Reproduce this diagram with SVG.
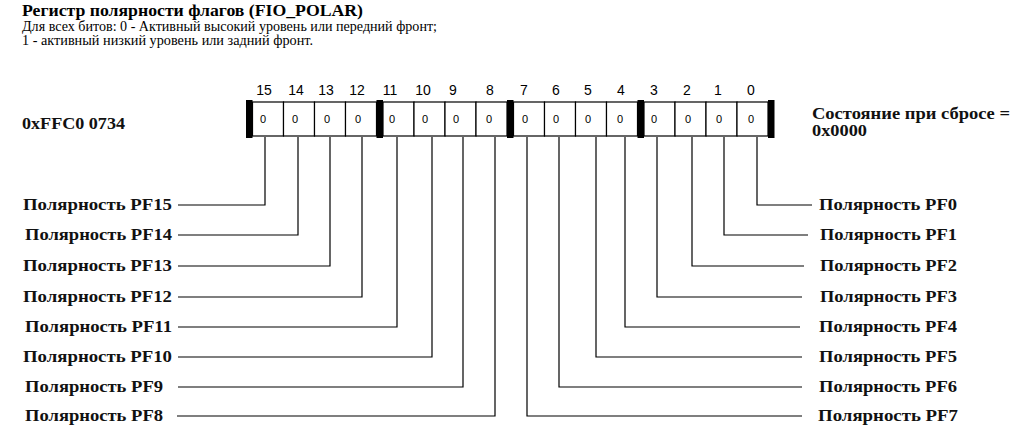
<svg xmlns="http://www.w3.org/2000/svg" width="1018" height="428" viewBox="0 0 1018 428">
<style>
.title{font-family:"Liberation Serif","DejaVu Serif",serif;font-weight:bold;font-size:16px;fill:#000}
.desc{font-family:"Liberation Serif","DejaVu Serif",serif;font-size:14px;fill:#000}
.lbl{font-family:"Liberation Serif","DejaVu Serif",serif;font-weight:bold;font-size:17px;fill:#111}
.num{font-family:"Liberation Sans",sans-serif;font-size:14px;fill:#000;text-anchor:middle}
.val{font-family:"Liberation Sans",sans-serif;font-size:11px;fill:#000;text-anchor:middle}
.bar{fill:#000}
.cell{fill:#fff;stroke:#000;stroke-width:1.2}
.conn{fill:none;stroke:#000;stroke-width:1.2}
</style>
<g id="header">
<text class="title" x="22" y="16" textLength="341" lengthAdjust="spacingAndGlyphs">Регистр полярности флагов (FIO_POLAR)</text>
<text class="desc" x="22" y="31" textLength="415" lengthAdjust="spacingAndGlyphs">Для всех битов: 0 - Активный высокий уровень или передний фронт;</text>
<text class="desc" x="22" y="45" textLength="291" lengthAdjust="spacingAndGlyphs">1 - активный низкий уровень или задний фронт.</text>
</g>
<g id="address"><text class="lbl" x="22" y="129" textLength="103" lengthAdjust="spacingAndGlyphs">0xFFC0 0734</text></g>
<g id="reset"><text class="lbl" x="812" y="119" textLength="198" lengthAdjust="spacingAndGlyphs">Состояние при сбросе =</text><text class="lbl" x="812" y="136" textLength="55" lengthAdjust="spacingAndGlyphs">0x0000</text></g>
<g id="register">
<rect class="cell" x="252.5" y="102" width="31" height="34"/><rect class="cell" x="283.5" y="102" width="31" height="34"/><rect class="cell" x="314.5" y="102" width="31" height="34"/><rect class="cell" x="345.5" y="102" width="31" height="34"/>
<rect class="cell" x="383" y="102" width="31" height="34"/><rect class="cell" x="414" y="102" width="31" height="34"/><rect class="cell" x="445" y="102" width="31" height="34"/><rect class="cell" x="476" y="102" width="31" height="34"/>
<rect class="cell" x="513.5" y="102" width="31" height="34"/><rect class="cell" x="544.5" y="102" width="31" height="34"/><rect class="cell" x="575.5" y="102" width="31" height="34"/><rect class="cell" x="606.5" y="102" width="31" height="34"/>
<rect class="cell" x="644" y="102" width="31" height="34"/><rect class="cell" x="675" y="102" width="31" height="34"/><rect class="cell" x="706" y="102" width="31" height="34"/><rect class="cell" x="737" y="102" width="31" height="34"/>
<rect class="bar" x="246" y="100" width="6.5" height="38"/><rect class="bar" x="376.5" y="100" width="6.5" height="38"/><rect class="bar" x="507" y="100" width="6.5" height="38"/><rect class="bar" x="637.5" y="100" width="6.5" height="38"/><rect class="bar" x="768" y="100" width="6.5" height="38"/>
<text class="num" x="264" y="95">15</text><text class="num" x="296" y="95">14</text><text class="num" x="326" y="95">13</text><text class="num" x="357" y="95">12</text>
<text class="num" x="390" y="95">11</text><text class="num" x="423" y="95">10</text><text class="num" x="453" y="95">9</text><text class="num" x="490" y="95">8</text>
<text class="num" x="524" y="95">7</text><text class="num" x="556" y="95">6</text><text class="num" x="588" y="95">5</text><text class="num" x="621" y="95">4</text>
<text class="num" x="654" y="95">3</text><text class="num" x="687" y="95">2</text><text class="num" x="718" y="95">1</text><text class="num" x="751" y="95">0</text>
<text class="val" x="263" y="123">0</text><text class="val" x="295" y="123">0</text><text class="val" x="327" y="123">0</text><text class="val" x="358" y="123">0</text>
<text class="val" x="392" y="123">0</text><text class="val" x="425" y="123">0</text><text class="val" x="456" y="123">0</text><text class="val" x="489" y="123">0</text>
<text class="val" x="525" y="123">0</text><text class="val" x="556" y="123">0</text><text class="val" x="588" y="123">0</text><text class="val" x="620" y="123">0</text>
<text class="val" x="654" y="123">0</text><text class="val" x="688" y="123">0</text><text class="val" x="719" y="123">0</text><text class="val" x="751" y="123">0</text>
</g>
<g id="connectors">
<polyline class="conn" points="178,205 265,205 265,137"/>
<polyline class="conn" points="178,235 298,235 298,137"/>
<polyline class="conn" points="178,266 330,266 330,137"/>
<polyline class="conn" points="178,297 362,297 362,137"/>
<polyline class="conn" points="178,327 397,327 397,137"/>
<polyline class="conn" points="178,357 432,357 432,137"/>
<polyline class="conn" points="178,387 463,387 463,137"/>
<polyline class="conn" points="177,416 495,416 495,137"/>
<polyline class="conn" points="812,205 757,205 757,137"/>
<polyline class="conn" points="808,235 724,235 724,137"/>
<polyline class="conn" points="804,266 692,266 692,137"/>
<polyline class="conn" points="802,297 657,297 657,137"/>
<polyline class="conn" points="800,327 625,327 625,137"/>
<polyline class="conn" points="802,357 596,357 596,137"/>
<polyline class="conn" points="802,387 559,387 559,137"/>
<polyline class="conn" points="802,416 527,416 527,137"/>
</g>
<g id="labels-left">
<g id="pf15"><text class="lbl" x="23" y="210" textLength="149" lengthAdjust="spacingAndGlyphs">Полярность PF15</text></g>
<g id="pf14"><text class="lbl" x="25" y="240" textLength="147" lengthAdjust="spacingAndGlyphs">Полярность PF14</text></g>
<g id="pf13"><text class="lbl" x="23" y="271" textLength="149" lengthAdjust="spacingAndGlyphs">Полярность PF13</text></g>
<g id="pf12"><text class="lbl" x="23" y="302" textLength="149" lengthAdjust="spacingAndGlyphs">Полярность PF12</text></g>
<g id="pf11"><text class="lbl" x="25" y="332" textLength="147" lengthAdjust="spacingAndGlyphs">Полярность PF11</text></g>
<g id="pf10"><text class="lbl" x="23" y="362" textLength="149" lengthAdjust="spacingAndGlyphs">Полярность PF10</text></g>
<g id="pf9"><text class="lbl" x="25" y="392" textLength="138" lengthAdjust="spacingAndGlyphs">Полярность PF9</text></g>
<g id="pf8"><text class="lbl" x="25" y="421" textLength="138" lengthAdjust="spacingAndGlyphs">Полярность PF8</text></g>
</g>
<g id="labels-right">
<g id="pf0"><text class="lbl" x="819" y="210" textLength="138" lengthAdjust="spacingAndGlyphs">Полярность PF0</text></g>
<g id="pf1"><text class="lbl" x="820" y="240" textLength="137" lengthAdjust="spacingAndGlyphs">Полярность PF1</text></g>
<g id="pf2"><text class="lbl" x="820" y="271" textLength="137" lengthAdjust="spacingAndGlyphs">Полярность PF2</text></g>
<g id="pf3"><text class="lbl" x="820" y="302" textLength="137" lengthAdjust="spacingAndGlyphs">Полярность PF3</text></g>
<g id="pf4"><text class="lbl" x="819" y="332" textLength="138" lengthAdjust="spacingAndGlyphs">Полярность PF4</text></g>
<g id="pf5"><text class="lbl" x="819" y="362" textLength="138" lengthAdjust="spacingAndGlyphs">Полярность PF5</text></g>
<g id="pf6"><text class="lbl" x="819" y="392" textLength="138" lengthAdjust="spacingAndGlyphs">Полярность PF6</text></g>
<g id="pf7"><text class="lbl" x="818" y="421" textLength="140" lengthAdjust="spacingAndGlyphs">Полярность PF7</text></g>
</g>
</svg>
